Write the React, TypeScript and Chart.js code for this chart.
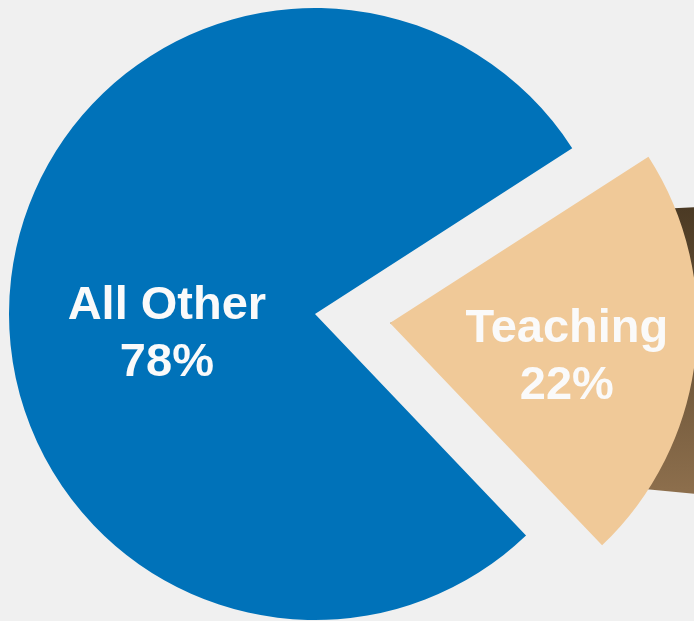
import React, { useEffect, useRef } from "react";
import { Chart, registerables } from "chart.js";

Chart.register(...registerables);

const categories = ["Teaching", "All Other"];
const values = [22, 78];
const labelLines = [["Teaching", "22%"], ["All Other", "78%"]];
const colors = ["#F0C998", "#0072B9"];
const offsets = [302, 0];
const labelAnchors = [
  [0.578, 0.062],
  [-0.484, 0.016],
];

const W = 694;
const H = 621;

const sidePlugin = {
  id: "side3d",
  beforeDatasetsDraw(chart: any) {
    const meta = chart.getDatasetMeta(0);
    const arc: any = meta.data[0];
    if (!arc) return;
    const ctx = chart.ctx;
    const off = (arc.options.offset || 0) / 4;
    const half = (arc.startAngle + arc.endAngle) / 2;
    const cx = arc.x + Math.cos(half) * off;
    const cy = arc.y + Math.sin(half) * off;
    const r = arc.outerRadius;
    const a1 = arc.startAngle + (10.8 * Math.PI) / 180;
    const a2 = arc.endAngle - (13.5 * Math.PI) / 180;
    const tx = cx + r * Math.cos(a1);
    const ty = cy + r * Math.sin(a1);
    const bx = cx + r * Math.cos(a2);
    const by = cy + r * Math.sin(a2);
    const g = ctx.createLinearGradient(0, ty, 0, by);
    g.addColorStop(0, "#4B3A24");
    g.addColorStop(1, "#8C6E4C");
    ctx.save();
    ctx.beginPath();
    ctx.moveTo(cx, cy);
    ctx.lineTo(tx, ty);
    ctx.lineTo(tx + r * 0.3, ty - r * 0.015);
    ctx.lineTo(bx + r * 0.3, by + r * 0.03);
    ctx.lineTo(bx, by);
    ctx.closePath();
    ctx.fillStyle = g;
    ctx.fill();
    ctx.restore();
  },
};

const labelPlugin = {
  id: "sliceLabels",
  afterDatasetsDraw(chart: any) {
    const meta = chart.getDatasetMeta(0);
    const ctx = chart.ctx;
    ctx.save();
    ctx.font = "bold 47px 'Liberation Sans', Arial, sans-serif";
    ctx.fillStyle = "#FAFAFA";
    ctx.textAlign = "center";
    ctx.textBaseline = "alphabetic";
    meta.data.forEach((arc: any, i: number) => {
      const off = (arc.options.offset || 0) / 4;
      const half = (arc.startAngle + arc.endAngle) / 2;
      const cx = arc.x + Math.cos(half) * off;
      const cy = arc.y + Math.sin(half) * off;
      const r = arc.outerRadius;
      const ax = cx + labelAnchors[i][0] * r;
      const ay = cy + labelAnchors[i][1] * r;
      labelLines[i].forEach((line, j) => {
        ctx.fillText(line, ax, ay + j * 57);
      });
    });
    ctx.restore();
  },
};

export default function App() {
  const ref = useRef<HTMLCanvasElement>(null);
  useEffect(() => {
    if (!ref.current) return;
    const chart = new Chart(ref.current, {
      type: "pie",
      data: {
        labels: categories,
        datasets: [
          {
            data: values,
            backgroundColor: colors,
            borderWidth: 0,
            offset: offsets,
            clip: false,
          } as any,
        ],
      },
      options: {
        animation: false,
        responsive: false,
        devicePixelRatio: 1,
        rotation: 57.2,
        radius: 306,
        layout: { padding: { left: 0, right: 64, top: 7, bottom: 0 } },
        plugins: {
          legend: { display: false },
          tooltip: { enabled: false },
        },
        events: [],
      } as any,
      plugins: [sidePlugin, labelPlugin],
    });
    return () => chart.destroy();
  }, []);
  return (
    <div
      style={{
        position: "fixed",
        left: 0,
        top: 0,
        width: W,
        height: H,
        background: "#F0F0F0",
        overflow: "hidden",
      }}
    >
      <canvas ref={ref} width={W} height={H} style={{ display: "block" }} />
    </div>
  );
}
